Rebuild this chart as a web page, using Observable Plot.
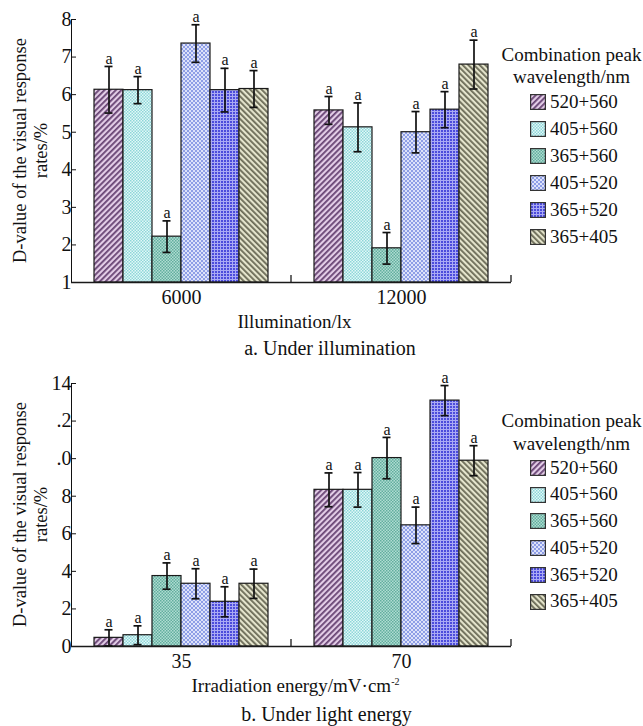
<!DOCTYPE html>
<html><head><meta charset="utf-8">
<script src="https://cdn.jsdelivr.net/npm/d3@7"></script>
<script src="https://cdn.jsdelivr.net/npm/@observablehq/plot@0.6"></script>
<style>
html,body{margin:0;padding:0;background:#fff;overflow:hidden;width:643px;height:726px}
body{font-family:"Liberation Serif","Times New Roman",serif;color:#111}
.chart{position:relative;width:643px}
.chart svg{display:block}
.xlab{font-size:19px;white-space:nowrap;text-align:center;overflow:visible}
.cap{font-size:20px}
.legend{position:absolute;left:498px;width:147px;font-size:19px}
.ltitle{text-align:center;white-space:nowrap}
.litem{position:relative;white-space:nowrap}
.litem svg{position:absolute;left:32px}
.litem span{position:absolute;left:52px}
</style>
</head><body>
<svg width="0" height="0" style="position:absolute">
<defs>
<pattern id="pat0" patternUnits="userSpaceOnUse" width="4" height="4" patternTransform="rotate(45)"><rect width="4" height="4" fill="#e2cce6"/><rect width="1.8" height="4" fill="#684474"/></pattern>
<pattern id="pat1" patternUnits="userSpaceOnUse" width="3" height="3"><rect width="3" height="3" fill="#e2f8f8"/><rect width="1.5" height="1.5" fill="#8ed6d8"/><rect x="1.5" y="1.5" width="1.5" height="1.5" fill="#8ed6d8"/></pattern>
<pattern id="pat2" patternUnits="userSpaceOnUse" width="3" height="3"><rect width="3" height="3" fill="#b0dcd2"/><rect width="1.5" height="1.5" fill="#62ae9e"/><rect x="1.5" y="1.5" width="1.5" height="1.5" fill="#62ae9e"/></pattern>
<pattern id="pat3" patternUnits="userSpaceOnUse" width="4" height="4"><rect width="4" height="4" fill="#dde2fa"/><rect width="2" height="2" fill="#8e9ee6"/><rect x="2" y="2" width="2" height="2" fill="#8e9ee6"/></pattern>
<pattern id="pat4" patternUnits="userSpaceOnUse" width="3" height="3"><rect width="3" height="3" fill="#4c4cdc"/><rect width="1" height="3" fill="#aaaaf4"/><rect width="3" height="1" fill="#aaaaf4"/></pattern>
<pattern id="pat5" patternUnits="userSpaceOnUse" width="4" height="4" patternTransform="rotate(-45)"><rect width="4" height="4" fill="#e4e4cc"/><rect width="1.8" height="4" fill="#6a6a56"/></pattern>
</defs>
</svg>
<div class="chart" id="c1"></div>
<div class="xlab" style="height:34px;line-height:34px;width:441px;padding-left:74px">Illumination/lx</div>
<div class="xlab cap" style="height:18px;line-height:18px;width:643px;padding-left:17px;box-sizing:border-box">a. Under illumination</div>
<div class="chart" id="c2"></div>
<div class="xlab" style="height:34px;line-height:34px;width:441px;padding-left:75px;box-sizing:content-box">Irradiation energy/mV·cm<sup style="font-size:10px;vertical-align:7px;line-height:0">-2</sup></div>
<div class="xlab cap" style="height:22px;line-height:22px;width:643px;padding-left:10px;box-sizing:border-box">b. Under light energy</div>
<script>
// ---- data ----
const series = ["520+560", "405+560", "365+560", "405+520", "365+520", "365+405"];
const patternUrls = ["url(#pat0)", "url(#pat1)", "url(#pat2)", "url(#pat3)", "url(#pat4)", "url(#pat5)"];
const legendTitle = ["Combination peak", "wavelength/nm"];
const yTitle = ["D-value of the visual response", "rates/%"];

// (a) Under illumination
const illumCategories = ["6000", "12000"];
const illumValues6000 = [6.13, 6.12, 2.22, 7.36, 6.12, 6.15];
const illumErrors6000 = [0.62, 0.36, 0.42, 0.50, 0.58, 0.49];
const illumValues12000 = [5.58, 5.13, 1.91, 5.00, 5.60, 6.80];
const illumErrors12000 = [0.37, 0.65, 0.42, 0.55, 0.48, 0.65];
const illumTicks = [1, 2, 3, 4, 5, 6, 7, 8];
const illumTickLabels = ["1", "2", "3", "4", "5", "6", "7", "8"];

// (b) Under light energy
const energyCategories = ["35", "70"];
const energyValues35 = [0.46, 0.60, 3.75, 3.34, 2.38, 3.34];
const energyErrors35 = [0.43, 0.50, 0.70, 0.80, 0.80, 0.78];
const energyValues70 = [8.34, 8.34, 10.03, 6.45, 13.09, 9.89];
const energyErrors70 = [0.90, 0.92, 1.10, 0.97, 0.80, 0.80];
const energyTicks = [0, 2, 4, 6, 8, 10, 12, 14];
const energyTickLabels = ["0", "2", "4", "6", "8", ".0", ".2", "14"];

function rowsFrom(categories, valueLists, errorLists) {
  const rows = [];
  categories.forEach((cat, i) => series.forEach((s, j) => {
    const v = valueLists[i][j], e = errorLists[i][j];
    rows.push({cat, series: s, value: v, err: e, lo: v - e, hi: v + e, label: "a"});
  }));
  return rows;
}

function makeChart(el, cfg) {
  const rows = rowsFrom(cfg.categories, cfg.values, cfg.errors);
  const base = cfg.ticks[0];
  const chart = Plot.plot({
    width: 643, height: cfg.height,
    marginLeft: 70, marginRight: 132, marginTop: cfg.marginTop, marginBottom: cfg.marginBottom,
    style: {fontFamily: "'Liberation Serif', 'Times New Roman', serif", fontSize: "20px", background: "white", color: "#111", overflow: "visible"},
    facet: {data: rows, x: "cat"},
    fx: {domain: cfg.categories, padding: 0, label: null, tickSize: 0, tickPadding: 7, axis: "bottom"},
    x: {domain: series, axis: null, paddingInner: 0, paddingOuter: 0.75},
    y: {domain: [cfg.ticks[0], cfg.ticks[cfg.ticks.length - 1]], ticks: cfg.ticks,
        tickFormat: d => cfg.tickLabels[cfg.ticks.indexOf(d)], tickSize: -5, tickPadding: 5, line: true, label: null},
    color: {domain: series, range: patternUrls},
    marks: [
      Plot.barY(rows, {x: "series", y1: base, y2: "value", fill: "series", stroke: "#1a1a1a", strokeWidth: 1.2}),
      Plot.ruleY([base], {stroke: "#1a1a1a", strokeWidth: 1.4}),
      Plot.ruleX(rows, {x: "series", y1: "lo", y2: "hi", stroke: "#111", strokeWidth: 1.7}),
      Plot.tickY(rows, {x: "series", y: "lo", insetLeft: 10.5, insetRight: 10.5, stroke: "#111", strokeWidth: 1.7}),
      Plot.tickY(rows, {x: "series", y: "hi", insetLeft: 10.5, insetRight: 10.5, stroke: "#111", strokeWidth: 1.7}),
      Plot.text(rows, {x: "series", y: "hi", text: "label", dy: -8, fontSize: 16, fill: "#111"})
    ]
  });
  el.appendChild(chart);
  const svg = d3.select(chart);
  // category boundary ticks on the x axis and the two-line y title
  try {
    const fx = chart.scale("fx"), y = chart.scale("y");
    const y0 = y.apply(base);
    cfg.categories.forEach(c => {
      const xr = fx.apply(c) + fx.bandwidth;
      svg.append("line").attr("x1", xr).attr("x2", xr).attr("y1", y0).attr("y2", y0 - 7)
        .attr("stroke", "#1a1a1a").attr("stroke-width", 1.3);
    });
    const yc = (y.apply(cfg.ticks[0]) + y.apply(cfg.ticks[cfg.ticks.length - 1])) / 2;
    [20, 41].forEach((xx, i) => {
      svg.append("text").attr("transform", `translate(${xx},${yc}) rotate(-90)`)
        .attr("text-anchor", "middle").attr("dominant-baseline", "central")
        .attr("font-size", 18.5).attr("fill", "#111").text(yTitle[i]);
    });
  } catch (e) { console.error(e); }
  // legend
  const lg = document.createElement("div");
  lg.className = "legend";
  lg.style.top = cfg.legendTop + "px";
  let html = legendTitle.map(t => `<div class="ltitle" style="height:${cfg.titleLH}px;line-height:${cfg.titleLH}px">${t}</div>`).join("");
  series.forEach((s, i) => {
    html += `<div class="litem" style="height:${cfg.itemH}px;line-height:${cfg.itemH}px">` +
      `<svg width="16" height="16" style="top:${(cfg.itemH - 16) / 2}px"><rect x="0.6" y="0.6" width="14.8" height="14.8" fill="${patternUrls[i]}" stroke="#333" stroke-width="1.2"/></svg>` +
      `<span>${s}</span></div>`;
  });
  lg.innerHTML = html;
  el.appendChild(lg);
}

makeChart(document.getElementById("c1"), {
  categories: illumCategories,
  values: [illumValues6000, illumValues12000],
  errors: [illumErrors6000, illumErrors12000],
  ticks: illumTicks, tickLabels: illumTickLabels,
  height: 305, marginTop: 19, marginBottom: 23,
  legendTop: 44, titleLH: 22, itemH: 27
});
makeChart(document.getElementById("c2"), {
  categories: energyCategories,
  values: [energyValues35, energyValues70],
  errors: [energyErrors35, energyErrors70],
  ticks: energyTicks, tickLabels: energyTickLabels,
  height: 312, marginTop: 26, marginBottom: 23,
  legendTop: 51.5, titleLH: 23, itemH: 26.8
});
</script>
</body></html>
